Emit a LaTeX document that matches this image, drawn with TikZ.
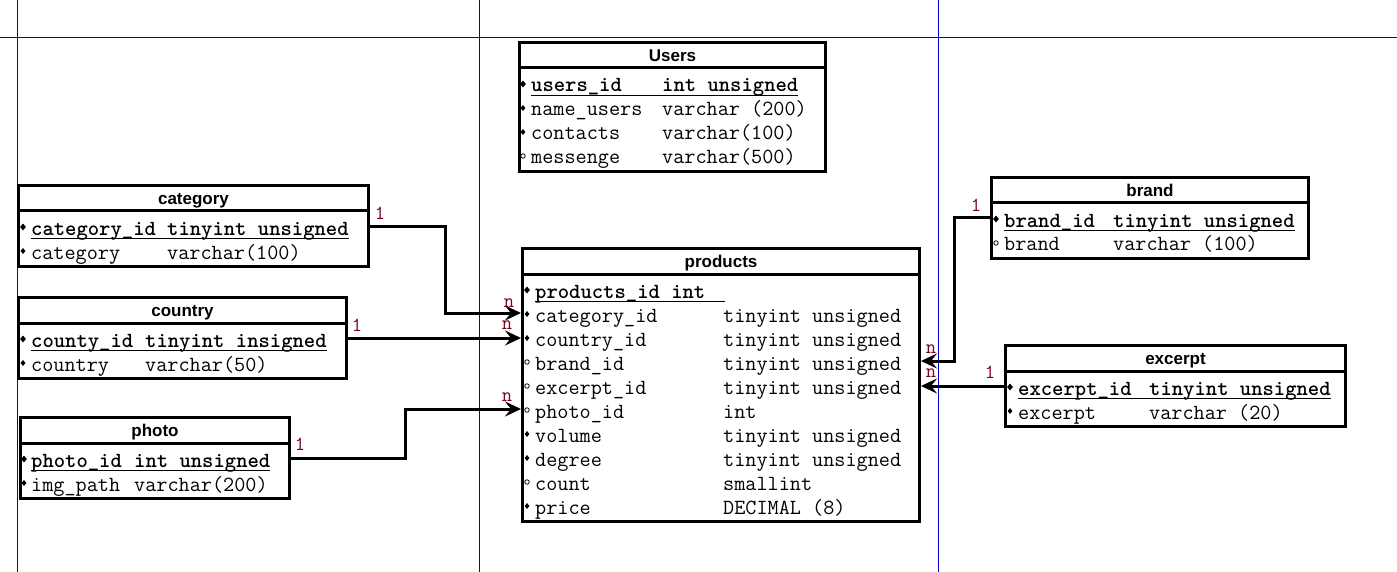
\documentclass[tikz,border=0pt]{standalone}
\usepackage{fontspec}
\usetikzlibrary{arrows.meta,shapes.geometric}
\newfontfamily\headfont{Liberation Sans}
\definecolor{gridblue}{RGB}{0,0,210}
\definecolor{cardred}{RGB}{120,0,24}

\begin{document}
\begin{tikzpicture}[x=1pt, y=-1pt,
    tbl/.style={draw, line width=3pt, anchor=north west, inner sep=0pt},
    sep/.style={line width=3pt},
    uline/.style={line width=1.3pt},
    ttl/.style={anchor=base, inner sep=0pt, font=\headfont\bfseries\fontsize{17}{19}\selectfont},
    fld/.style={anchor=base west, inner sep=0pt, text height=18pt, text depth=0pt, font=\ttfamily\fontsize{21.6}{22}\selectfont},
    pkfld/.style={fld, font=\ttfamily\bfseries\fontsize{21.6}{22}\selectfont},
    req/.style={diamond, fill, inner sep=0pt, minimum width=5pt, minimum height=6pt},
    pkm/.style={req, minimum width=6pt, minimum height=7pt},
    opt/.style={circle, draw, line width=0.8pt, inner sep=0pt, minimum size=4.5pt},
    link/.style={line width=3pt, -{Stealth[length=16pt, width=15pt, inset=6pt]}},
    card/.style={inner sep=0pt, text=cardred, font=\ttfamily\fontsize{20}{20}\selectfont},
    grid/.style={gridblue, line width=1pt}]
    \useasboundingbox (0,0) rectangle (1397,572);

    % page guides
    \draw[grid] (0,37.5) -- (1397,37.5);
    \foreach \gx in {17.5,479.5,938.5} \draw[grid] (\gx,0) -- (\gx,572);

    % Users
    \node[tbl, minimum width=306pt, minimum height=129pt] (users) at (518,41) {};
    \draw[sep] ([yshift=-27pt]users.north west) -- ([yshift=-27pt]users.north east);
    \node[ttl] (users-h) at ([yshift=-20.5pt]users.north) {Users};
    \node[pkm] (users-m1) at (523,84) {};
    \node[pkfld] (users-1) at (531,92) {users\_id};
    \node[pkfld] (users-t1) at (662,92) {int unsigned};
    \draw[uline] ([yshift=-3pt]users-1.south west) -- ([yshift=-3pt]users-t1.south east);
    \foreach \nm/\ty/\mk [count=\i from 2] in {name\_users/varchar (200)/req,contacts/varchar(100)/req,messenge/varchar(500)/opt}{
        \node[\mk] (users-m\i) at (523,{68+24*\i-8}) {};
        \node[fld] (users-\i) at (531,{68+24*\i}) {\nm};
        \node[fld] (users-t\i) at (662,{68+24*\i}) {\ty};
    }

    % category
    \node[tbl, minimum width=350pt, minimum height=81pt] (category) at (17,184) {};
    \draw[sep] ([yshift=-27pt]category.north west) -- ([yshift=-27pt]category.north east);
    \node[ttl] (category-h) at ([yshift=-20.5pt]category.north) {category};
    \node[pkm] (category-m1) at (23,227) {};
    \node[pkfld] (category-1) at (31,235) {category\_id};
    \node[pkfld] (category-t1) at (167,235) {tinyint unsigned};
    \draw[uline] ([yshift=-3pt]category-1.south west) -- ([yshift=-3pt]category-t1.south east);
    \node[req] (category-m2) at (23,251) {};
    \node[fld] (category-2) at (31,259) {category};
    \node[fld] (category-t2) at (167,259) {varchar(100)};

    % country
    \node[tbl, minimum width=328pt, minimum height=81pt] (country) at (17,296) {};
    \draw[sep] ([yshift=-27pt]country.north west) -- ([yshift=-27pt]country.north east);
    \node[ttl] (country-h) at ([yshift=-20.5pt]country.north) {country};
    \node[pkm] (country-m1) at (23,339) {};
    \node[pkfld] (country-1) at (31,347) {county\_id};
    \node[pkfld] (country-t1) at (145,347) {tinyint insigned};
    \draw[uline] ([yshift=-3pt]country-1.south west) -- ([yshift=-3pt]country-t1.south east);
    \node[req] (country-m2) at (23,363) {};
    \node[fld] (country-2) at (31,371) {country};
    \node[fld] (country-t2) at (145,371) {varchar(50)};

    % photo
    \node[tbl, minimum width=269pt, minimum height=81pt] (photo) at (19,416) {};
    \draw[sep] ([yshift=-27pt]photo.north west) -- ([yshift=-27pt]photo.north east);
    \node[ttl] (photo-h) at ([yshift=-20.5pt]photo.north) {photo};
    \node[pkm] (photo-m1) at (24,459) {};
    \node[pkfld] (photo-1) at (31,467) {photo\_id};
    \node[pkfld] (photo-t1) at (134,467) {int unsigned};
    \draw[uline] ([yshift=-3pt]photo-1.south west) -- ([yshift=-3pt]photo-t1.south east);
    \node[req] (photo-m2) at (24,483) {};
    \node[fld] (photo-2) at (31,491) {img\_path};
    \node[fld] (photo-t2) at (134,491) {varchar(200)};

    % products
    \node[tbl, minimum width=397pt, minimum height=273pt] (products) at (521,247) {};
    \draw[sep] ([yshift=-27pt]products.north west) -- ([yshift=-27pt]products.north east);
    \node[ttl] (products-h) at ([yshift=-20.5pt]products.north) {products};
    \node[pkm] (products-m1) at (527,290) {};
    \node[pkfld] (products-1) at (535,298) {products\_id int};
    \draw[uline] ([yshift=-3pt]products-1.south west) -- ++(190,0);
    \foreach \nm/\ty/\mk [count=\i from 2] in {category\_id/tinyint unsigned/req,country\_id/tinyint unsigned/req,brand\_id/tinyint unsigned/opt,excerpt\_id/tinyint unsigned/opt,photo\_id/int/opt,volume/tinyint unsigned/req,degree/tinyint unsigned/req,count/smallint/opt,price/DECIMAL (8)/req}{
        \node[\mk] (products-m\i) at (527,{274+24*\i-8}) {};
        \node[fld] (products-\i) at (535,{274+24*\i}) {\nm};
        \node[fld] (products-t\i) at (723,{274+24*\i}) {\ty};
    }

    % brand
    \node[tbl, minimum width=317pt, minimum height=81pt] (brand) at (990,176) {};
    \draw[sep] ([yshift=-27pt]brand.north west) -- ([yshift=-27pt]brand.north east);
    \node[ttl] (brand-h) at ([yshift=-20.5pt]brand.north) {brand};
    \node[pkm] (brand-m1) at (996,219) {};
    \node[pkfld] (brand-1) at (1004,227) {brand\_id};
    \node[pkfld] (brand-t1) at (1113,227) {tinyint unsigned};
    \draw[uline] ([yshift=-3pt]brand-1.south west) -- ([yshift=-3pt]brand-t1.south east);
    \node[opt] (brand-m2) at (996,243) {};
    \node[fld] (brand-2) at (1004,251) {brand};
    \node[fld] (brand-t2) at (1113,251) {varchar (100)};

    % excerpt
    \node[tbl, minimum width=340pt, minimum height=81pt] (excerpt) at (1004,344) {};
    \draw[sep] ([yshift=-27pt]excerpt.north west) -- ([yshift=-27pt]excerpt.north east);
    \node[ttl] (excerpt-h) at ([yshift=-20.5pt]excerpt.north) {excerpt};
    \node[pkm] (excerpt-m1) at (1010,387) {};
    \node[pkfld] (excerpt-1) at (1018,395) {excerpt\_id};
    \node[pkfld] (excerpt-t1) at (1149,395) {tinyint unsigned};
    \draw[uline] ([yshift=-3pt]excerpt-1.south west) -- ([yshift=-3pt]excerpt-t1.south east);
    \node[req] (excerpt-m2) at (1010,411) {};
    \node[fld] (excerpt-2) at (1018,419) {excerpt};
    \node[fld] (excerpt-t2) at (1149,419) {varchar (20)};

    % links
    \draw[link] (category.east |- category-1) -| (445,270) |- (products.west |- products-2);
    \draw[link] (country-1 -| country.east) -- (country-1 -| products.west);
    \draw[link] (photo.east |- photo-1) -| (405,430) |- (products.west |- products-6);
    \draw[link] (brand.west |- brand-1) -| (954,300) |- (products.east |- products-4);
    \draw[link] (excerpt-1 -| excerpt.west) -- (excerpt-1 -| products.east);

    % cardinalities
    \node[card] (category-c) at (380,213) {1};
    \node[card] (category-n) at (509,303) {n};
    \node[card] (country-c) at (357,325) {1};
    \node[card] (country-n) at (507,325) {n};
    \node[card] (photo-c) at (300,444) {1};
    \node[card] (photo-n) at (507,397) {n};
    \node[card] (brand-c) at (976,205) {1};
    \node[card] (brand-n) at (931,349) {n};
    \node[card] (excerpt-c) at (990,372) {1};
    \node[card] (excerpt-n) at (931,373) {n};
\end{tikzpicture}
\end{document}
